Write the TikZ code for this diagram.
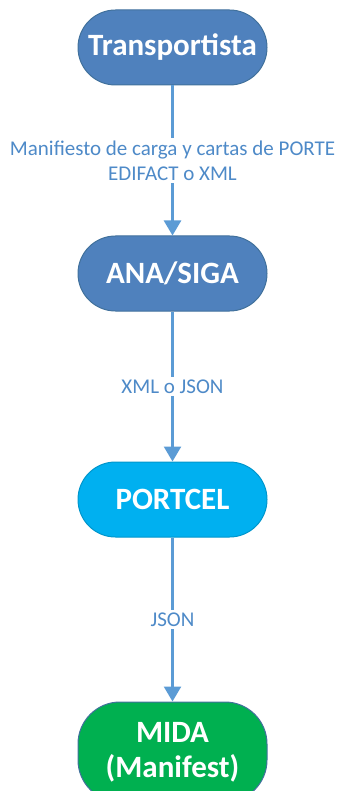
\documentclass[tikz,border=0pt]{standalone}
\usepackage{fontspec}
\setmainfont{Carlito}
\usetikzlibrary{arrows.meta,shapes.misc}
\definecolor{nodeblue}{HTML}{4F81BD}
\definecolor{nodeborder}{HTML}{41719C}
\definecolor{portcel}{HTML}{00B0F0}
\definecolor{mida}{HTML}{00B050}
\definecolor{conncol}{HTML}{5B9BD5}
\definecolor{labcol}{HTML}{4E8AC8}
\tikzset{
  stadium/.style={draw=nodeborder, line width=1pt, rounded rectangle,
    minimum width=189pt, minimum height=75pt, inner sep=0pt,
    text=white, font=\fontsize{31}{35}\selectfont\bfseries, align=center},
  tallbox/.style={draw=nodeborder, line width=1pt, rounded corners=42pt,
    minimum width=189pt, minimum height=100pt, inner sep=0pt,
    text=white, font=\fontsize{31}{35}\selectfont\bfseries, align=center},
  conn/.style={draw=conncol, line width=2.5pt, -{Triangle[width=17pt,length=15pt]}},
  lab/.style={fill=white, text=labcol, font=\fontsize{21}{25}\selectfont,
    align=center, inner sep=2.5pt}
}
\begin{document}
\begin{tikzpicture}[x=1pt,y=1pt]
\useasboundingbox (0,0) rectangle (342,-791);
\node[stadium, fill=nodeblue] (T) at (172.5,-47.5) {Transportista};
\node[stadium, fill=nodeblue] (A) at (172.5,-273.5) {ANA/SIGA};
\node[stadium, fill=portcel, draw=portcel!85!black] (P) at (172.5,-499.5) {PORTCEL};
\node[tallbox, fill=mida] (M) at (172.5,-752) {MIDA\\(Manifest)};
\draw[conn] (T) -- node[lab] (l1) {Manifiesto de carga y cartas de PORTE\\EDIFACT o XML} (A);
\draw[conn] (A) -- node[lab] (l2) {XML o JSON} (P);
\draw[conn] (P) -- node[lab] (l3) {JSON} (M);
\end{tikzpicture}
\end{document}
